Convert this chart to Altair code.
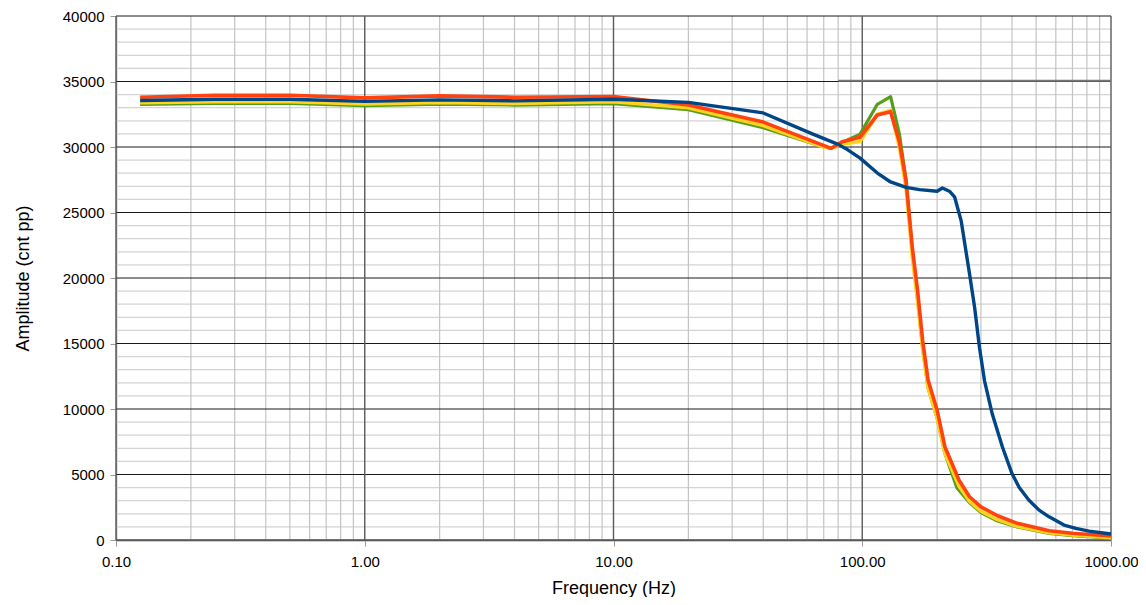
import altair as alt
import pandas as pd

# ---- data ----
blue_f = [0.125, 0.25, 0.5, 1, 2, 4, 10, 20, 40, 63, 80, 86, 98, 115, 130, 150, 170, 200, 210,
          225, 235, 250, 270, 283, 296, 310, 333, 366, 400, 427, 468, 514, 564, 647, 722, 816, 1000]
blue_v = [33550, 33650, 33650, 33480, 33600, 33520, 33650, 33410, 32600, 31000, 30200, 29870, 29150,
          28010, 27330, 26920, 26750, 26620, 26870, 26600, 26200, 24340, 20300, 17740, 14700, 12170,
          9630, 7100, 5070, 4030, 3040, 2280, 1770, 1140, 890, 680, 456]

red_f = [0.125, 0.25, 0.5, 1, 2, 4, 10, 20, 40, 75, 83, 98, 115, 130, 141, 150, 159, 167, 175, 184,
         200, 215, 245, 270, 300, 350, 420, 564, 700, 850, 1000]
red_v = [33800, 33950, 33950, 33750, 33900, 33800, 33850, 33200, 31900, 29900, 30400, 30750, 32450,
         32700, 30400, 27400, 22300, 19000, 15200, 12200, 9900, 7100, 4560, 3300, 2530, 1850, 1270,
         710, 520, 400, 300]

yellow_f = [0.125, 0.25, 0.5, 1, 2, 4, 10, 20, 40, 70, 75, 83, 98, 115, 130, 141, 150, 159, 167,
            175, 184, 200, 215, 245, 270, 300, 350, 420, 564, 700, 1000]
yellow_v = [33380, 33450, 33450, 33280, 33400, 33320, 33450, 33000, 31640, 30000, 29900, 30200,
            30420, 32500, 32800, 30000, 26800, 21500, 18200, 14500, 11600, 9300, 6600, 4100, 2950,
            2200, 1550, 1050, 550, 380, 180]

green_f = [0.125, 0.25, 0.5, 1, 2, 4, 10, 20, 40, 70, 75, 83, 98, 115, 130, 141, 150, 159, 167,
           175, 184, 200, 215, 240, 270, 300, 350, 420, 564, 700, 1000]
green_v = [33250, 33330, 33330, 33150, 33280, 33200, 33310, 32850, 31480, 30000, 29900, 30350,
           30980, 33260, 33840, 31000, 27500, 22000, 18400, 14600, 11600, 9300, 6600, 4000, 2850,
           2100, 1450, 1000, 500, 330, 150]

ref_f = [80, 1000]
ref_v = [35050, 35050]

x_ticks = [0.1, 1, 10, 100, 1000]
y_ticks = list(range(0, 40001, 5000))
x_minor = [m * 10 ** e for e in range(-1, 3) for m in range(2, 10)]
y_minor = [v for v in range(1000, 40000, 1000) if v % 5000 != 0]

FONT = "Liberation Sans"

xscale = alt.Scale(type="log", domain=[0.1, 1000], nice=False)
yscale = alt.Scale(domain=[0, 40000], nice=False)
xaxis = alt.Axis(values=x_ticks, format=".2f", title="Frequency (Hz)", grid=False,
                 domainColor="#999999", domainWidth=2, tickColor="#999999", tickSize=6,
                 labelPadding=8, labelFontSize=15, labelFont=FONT, labelColor="#000000",
                 titleFont=FONT, titleFontSize=18, titleFontWeight="normal", titleColor="#000000",
                 titlePadding=10, labelFlush=False)
yaxis = alt.Axis(values=y_ticks, format="d", title="Amplitude (cnt pp)", grid=False,
                 domainColor="#999999", domainWidth=1.5, tickColor="#999999", tickSize=6,
                 labelPadding=6, labelFontSize=15, labelFont=FONT, labelColor="#000000",
                 titleFont=FONT, titleFontSize=18, titleFontWeight="normal", titleColor="#000000",
                 titlePadding=30)

X = alt.X("f:Q", scale=xscale, axis=xaxis)
Y = alt.Y("v:Q", scale=yscale, axis=yaxis)


def vgrid(vals, color, width):
    return alt.Chart(pd.DataFrame({"f": vals})).mark_rule(color=color, strokeWidth=width).encode(x=X)


def hgrid(vals, color, width):
    return alt.Chart(pd.DataFrame({"v": vals})).mark_rule(color=color, strokeWidth=width).encode(y=Y)


def series(fs, vs, color, width=3.5):
    df = pd.DataFrame({"f": fs, "v": vs})
    return alt.Chart(df).mark_line(color=color, strokeWidth=width, strokeJoin="round",
                                   strokeCap="butt").encode(x=X, y=Y)


chart = alt.layer(
    hgrid(y_minor, "#d4d4d4", 1.2),
    vgrid(x_minor, "#c4c4c4", 1.2),
    hgrid(y_ticks, "#1a1a1a", 1),
    vgrid(x_ticks, "#5a5a5a", 1.4),
    series(ref_f, ref_v, "#777777", 2),
    series(green_f, green_v, "#579d1c", 3.2),
    series(yellow_f, yellow_v, "#ffd320", 3.5),
    series(red_f, red_v, "#ff420e", 3.6),
    series(blue_f, blue_v, "#004586", 3.4),
).properties(
    width=995, height=524,
    autosize=alt.AutoSizeParams(type="none"),
    padding={"left": 108, "top": 8, "right": 27, "bottom": 57},
    background="#ffffff",
).configure_view(stroke=None)

chart.save("out.html", embed_options={"renderer": "svg", "actions": False})
